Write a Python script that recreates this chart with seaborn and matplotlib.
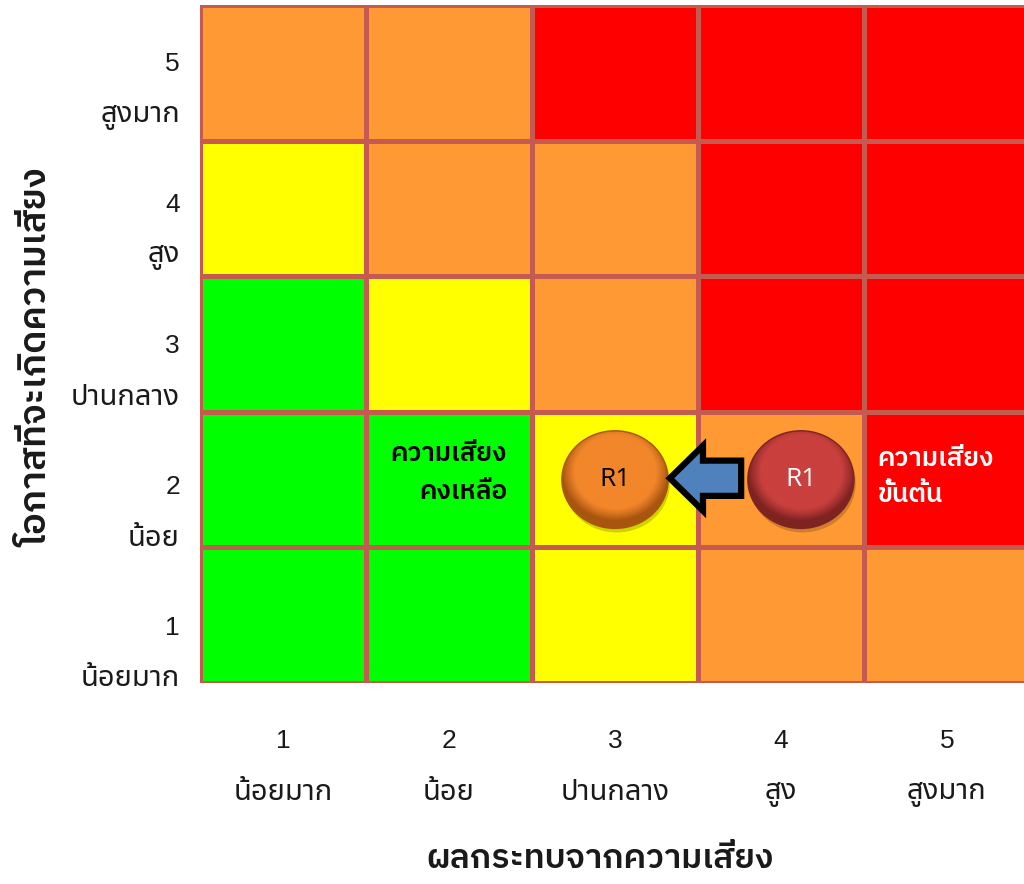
import numpy as np
import pandas as pd
import matplotlib
matplotlib.use("Agg")
import matplotlib.pyplot as plt
from matplotlib.colors import ListedColormap, LinearSegmentedColormap
from matplotlib.patches import Ellipse, FancyArrow
import seaborn as sns

# impact (x) and likelihood (y) scales
impact_levels = [1, 2, 3, 4, 5]
impact_names = ["น้อยมาก", "น้อย", "ปานกลาง", "สูง", "สูงมาก"]
likelihood_levels = [5, 4, 3, 2, 1]          # top row first
likelihood_names = ["สูงมาก", "สูง", "ปานกลาง", "น้อย", "น้อยมาก"]

# zone of each cell: 0 green, 1 yellow, 2 orange, 3 red (rows top to bottom)
zone_rows = [
    [2, 2, 3, 3, 3],
    [1, 2, 2, 3, 3],
    [0, 1, 2, 3, 3],
    [0, 0, 1, 2, 3],
    [0, 0, 1, 2, 2],
]
zone_colors = ["#00FF00", "#FFFF00", "#FF9933", "#FF0000"]

# risk R1 before and after treatment (impact, likelihood)
risk_name = "R1"
inherent_risk = (4, 2)
residual_risk = (3, 2)
inherent_label = "ความเสี่ยง\nขั้นต้น"
residual_label = "ความเสี่ยง\nคงเหลือ"

x_title = "ผลกระทบจากความเสี่ยง"
y_title = "โอกาสที่จะเกิดความเสี่ยง"

sns.set_style("white")
plt.rcParams['font.family'] = ['Noto Sans Thai', 'DejaVu Sans']
THAI = ['Noto Sans Thai', 'DejaVu Sans']
THAI_BOLD = ['IBM Plex Sans Thai', 'DejaVu Sans']
DIGITS = ['Liberation Sans', 'DejaVu Sans']
TXT = "#1a1a1a"

fig = plt.figure(figsize=(10.24, 8.84), dpi=100)
ax = fig.add_axes([200 / 1024, 201 / 884, 830 / 1024, 678 / 884])

grid = pd.DataFrame(zone_rows, index=likelihood_levels, columns=impact_levels)
sns.heatmap(grid, cmap=ListedColormap(zone_colors), vmin=-0.5, vmax=3.5,
            cbar=False, linewidths=2.5, linecolor="#C55A50",
            xticklabels=False, yticklabels=False, ax=ax)
ax.set_xlabel("")
ax.set_ylabel("")
ax.tick_params(length=0)


def col_of(impact):
    return impact_levels.index(impact) + 0.5


def row_of(lik):
    return likelihood_levels.index(lik) + 0.5


# x axis labels: number above, name below
for lvl, name in zip(impact_levels, impact_names):
    ax.annotate(str(lvl), xy=(col_of(lvl), 0), xycoords=("data", "axes fraction"),
                xytext=(0, -42), textcoords="offset points",
                ha="center", va="center", fontsize=19, color=TXT, family=DIGITS)
    ax.annotate(name, xy=(col_of(lvl), 0), xycoords=("data", "axes fraction"),
                xytext=(0, -79), textcoords="offset points",
                ha="center", va="center", fontsize=21, color=TXT, family=THAI)

# y axis labels are spaced a little wider than the rows in the original
for i, (lvl, name) in enumerate(zip(likelihood_levels, likelihood_names)):
    y_num = 1 - (64 + i * 141 - 5) / 678
    y_name = 1 - (115 + i * 141 - 5) / 678
    ax.text(-20 / 830, y_num, str(lvl), transform=ax.transAxes,
            ha="right", va="center", fontsize=19, color=TXT, family=DIGITS)
    ax.text(-20 / 830, y_name, name, transform=ax.transAxes,
            ha="right", va="center", fontsize=21, color=TXT, family=THAI)

fig.text(600 / 1024, 1 - 859 / 884, x_title, ha="center", va="center",
         fontsize=24.5, fontweight="semibold", family=THAI_BOLD, color=TXT)
fig.text(37 / 1024, 1 - 358 / 884, y_title, ha="center", va="center",
         rotation=90, fontsize=26.5, fontweight="semibold", family=THAI_BOLD, color=TXT)

# zone labels
ax.text(col_of(2) + 0.35, row_of(2) - 0.05, residual_label, ha="right", va="center",
        multialignment="right", fontsize=19, fontweight="semibold", color="black",
        linespacing=1.75, family=THAI_BOLD)
ax.text(col_of(5) - 0.42, row_of(2) - 0.02, inherent_label, ha="left", va="center",
        multialignment="left", fontsize=19, fontweight="semibold", color="white",
        linespacing=1.65, family=THAI_BOLD)


def glossy_ball(cx, cy, light, dark, text_color):
    rx, ry = 0.32, 0.36
    n = 200
    gx, gy = np.meshgrid(np.linspace(-1, 1, n), np.linspace(-1, 1, n))
    r = np.clip(np.sqrt(gx ** 2 + (gy + 0.15) ** 2), 0, 1)
    cmap = LinearSegmentedColormap.from_list("ball", [light, light, dark])
    shadow = Ellipse((cx + 0.01, cy + 0.03), 2 * rx, 2 * ry, facecolor="#000000",
                     alpha=0.18, edgecolor="none", zorder=3)
    ax.add_patch(shadow)
    im = ax.imshow(r ** 2.5, cmap=cmap, extent=(cx - rx, cx + rx, cy + ry, cy - ry),
                   aspect="auto", zorder=4, interpolation="bilinear")
    clip = Ellipse((cx, cy), 2 * rx, 2 * ry, transform=ax.transData,
                   facecolor="none", edgecolor=dark, linewidth=1, zorder=5)
    ax.add_patch(clip)
    im.set_clip_path(clip)
    ax.text(cx, cy, risk_name, ha="center", va="center", fontsize=19,
            color=text_color, family="Open Sans", zorder=6)


res_x, res_y = col_of(residual_risk[0]), row_of(residual_risk[1])
inh_x, inh_y = col_of(inherent_risk[0]) + 0.12, row_of(inherent_risk[1])
glossy_ball(res_x, res_y, "#F2862A", "#A8550F", "black")
glossy_ball(inh_x, inh_y, "#C9403E", "#7E2321", "white")

# arrow from inherent to residual
tail = inh_x - 0.36
tip = res_x + 0.33
ax.add_patch(FancyArrow(tail, res_y - 0.01, tip - tail, 0, width=0.26,
                        head_width=0.48, head_length=0.2,
                        length_includes_head=True, facecolor="#4F81BD",
                        edgecolor="black", linewidth=4.5, zorder=5))

ax.set_xlim(0, 5)
ax.set_ylim(5, 0)
fig.savefig("out.png", dpi=100)
